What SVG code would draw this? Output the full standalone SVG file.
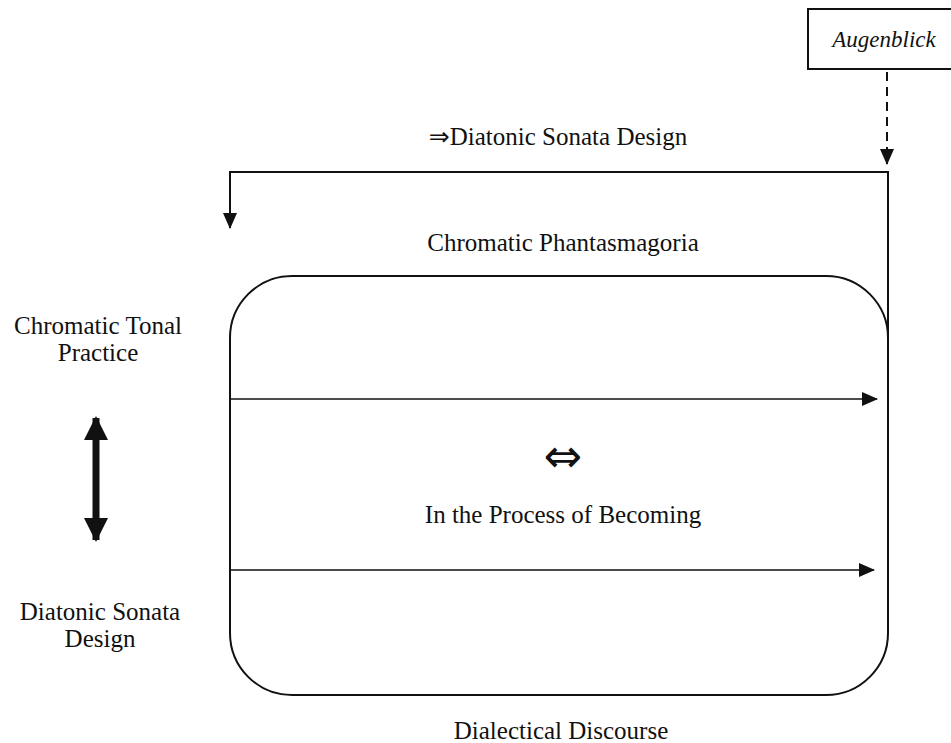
<svg xmlns="http://www.w3.org/2000/svg" width="951" height="743" viewBox="0 0 951 743">
  <style>
    text { font-family: "Liberation Serif", "DejaVu Serif", serif; font-size: 25px; fill: #111; text-anchor: middle; }
    .sym { font-family: "DejaVu Sans", sans-serif; }
    .big { font-size: 46px; }
    .small { font-size: 23px; font-style: italic; }
    .line { fill: none; stroke: #111; stroke-width: 2; }
    .thin { fill: none; stroke: #111; stroke-width: 1.3; }
  </style>
  <defs>
    <marker id="headL" markerWidth="16" markerHeight="14" refX="15" refY="7" orient="auto" markerUnits="userSpaceOnUse" viewBox="0 0 16 14">
      <path d="M0,0 L16,7 L0,14 Z" fill="#111"/>
    </marker>
    <marker id="bigHead" markerWidth="24" markerHeight="24" refX="22" refY="12" orient="auto-start-reverse" markerUnits="userSpaceOnUse" viewBox="0 0 24 24">
      <path d="M0,0 L24,12 L0,24 Z" fill="#111"/>
    </marker>
  </defs>

  <g id="augenblick">
    <rect x="808" y="9" width="150" height="60" class="line"/>
    <text x="884" y="47" class="small">Augenblick</text>
  </g>

  <g id="process-box">
    <rect x="230" y="276" width="658" height="419" rx="62" ry="62" class="line"/>
    <text x="563" y="472" class="sym big">⇔</text>
    <text x="563" y="523">In the Process of Becoming</text>
  </g>

  <g id="labels">
    <text x="558" y="145"><tspan class="sym">⇒</tspan>Diatonic Sonata Design</text>
    <text x="563" y="251">Chromatic Phantasmagoria</text>
    <text x="98" y="334">Chromatic Tonal</text>
    <text x="98" y="361">Practice</text>
    <text x="100" y="620">Diatonic Sonata</text>
    <text x="100" y="647">Design</text>
    <text x="561" y="739">Dialectical Discourse</text>
  </g>

  <g id="connectors">
    <!-- dashed drop from the box above -->
    <line x1="887" y1="72" x2="887" y2="164" class="line" stroke-dasharray="9,6" marker-end="url(#headL)"/>
    <!-- return path along the top -->
    <polyline points="888,340 888,172 230,172 230,228" class="line" marker-end="url(#headL)"/>
    <!-- flows inside the box -->
    <line x1="230" y1="399" x2="877" y2="399" class="thin" marker-end="url(#headL)"/>
    <line x1="230" y1="570" x2="874" y2="570" class="thin" marker-end="url(#headL)"/>
    <!-- bold two-way arrow -->
    <line x1="96" y1="418" x2="96" y2="540" stroke="#111" stroke-width="7" marker-start="url(#bigHead)" marker-end="url(#bigHead)"/>
  </g>
</svg>
